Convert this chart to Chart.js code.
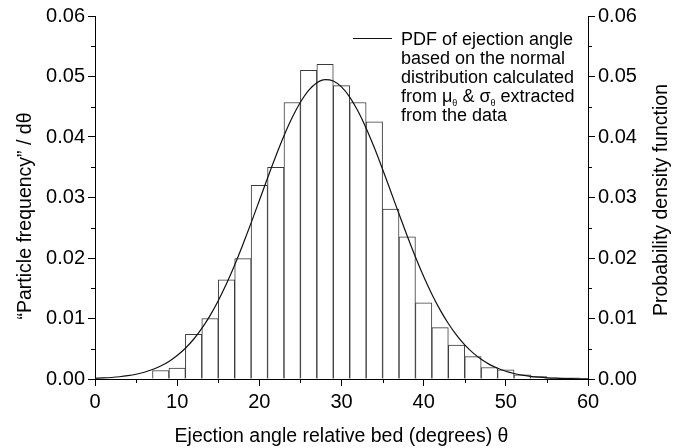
<!DOCTYPE html>
<html>
<head>
<meta charset="utf-8">
<script src="https://cdn.jsdelivr.net/npm/chart.js@4.4.1/dist/chart.umd.min.js"></script>
<style>
  html, body { margin: 0; padding: 0; background: #fff; }
  #wrap { width: 682px; height: 448px; }
</style>
</head>
<body>
<div id="wrap"><canvas id="chart" width="682" height="448"></canvas></div>
<script>
// histogram bins (centre of each 2 degree bin) and bar heights
const binCenters = [8, 10, 12, 14, 16, 18, 20, 22, 24, 26, 28, 30, 32, 34, 36, 38, 40, 42, 44, 46, 48, 50, 52, 54, 56, 58]
const particleFreq = [0.0014, 0.0018, 0.0074, 0.0100, 0.0164, 0.0199, 0.0320, 0.0350, 0.0457, 0.0510, 0.0520, 0.0485, 0.0457,
    0.0425, 0.0281, 0.0235, 0.0126, 0.0085, 0.0056, 0.0037, 0.0019, 0.0015, 0.0007, 0.0004, 0.0002, 0.0002]

// PDF curve, one point per degree
const pdfAngles = [0, 1, 2, 3, 4, 5, 6, 7, 8, 9, 10, 11, 12, 13, 14, 15, 16, 17, 18, 19, 20, 21, 22, 23, 24, 25, 26, 27, 28, 29,
    30, 31, 32, 33, 34, 35, 36, 37, 38, 39, 40, 41, 42, 43, 44, 45, 46, 47, 48, 49, 50, 51, 52, 53, 54, 55, 56, 57, 58, 59, 60]
const pdfValues = [0.00011, 0.00017, 0.00025, 0.00037, 0.00055, 0.00079, 0.00112, 0.00156, 0.00214, 0.00290,
    0.00387, 0.00508, 0.00657, 0.00837, 0.01048, 0.01295, 0.01574, 0.01885, 0.02223, 0.02580,
    0.02950, 0.03322, 0.03682, 0.04020, 0.04321, 0.04575, 0.04769, 0.04896, 0.04949, 0.04926,
    0.04828, 0.04660, 0.04429, 0.04146, 0.03821, 0.03467, 0.03099, 0.02727, 0.02364, 0.02017,
    0.01695, 0.01402, 0.01143, 0.00917, 0.00725, 0.00564, 0.00432, 0.00326, 0.00242, 0.00177,
    0.00128, 0.00091, 0.00063, 0.00044, 0.00030, 0.00020, 0.00013, 0.00008, 0.00005, 0.00003, 0.00002]

const xTicks = [0, 10, 20, 30, 40, 50, 60]
const xMinorTicks = [5, 15, 25, 35, 45, 55]
const yTicks = [0, 0.01, 0.02, 0.03, 0.04, 0.05, 0.06]
const yMinorTicks = [0.005, 0.015, 0.025, 0.035, 0.045, 0.055]

const xTitle = "Ejection angle relative bed (degrees) θ"
const yLeftTitle = "“Particle frequency” / dθ"
const yRightTitle = "Probability density function"
const legendText = [
    [["PDF of ejection angle"]],
    [["based on the normal"]],
    [["distribution calculated"]],
    [["from "], ["μ", "θ"], [" & "], ["σ", "θ"], [" extracted"]],
    [["from the data"]]
]

const fontFamily = '"Liberation Sans", Arial, Helvetica, sans-serif'
Chart.defaults.font.family = fontFamily
Chart.defaults.color = '#000'

const minorTicks = {
    id: 'minorTicks',
    afterDraw: (chart) => {
        const {ctx, chartArea, scales} = chart
        ctx.save()
        ctx.strokeStyle = '#000'
        ctx.lineWidth = 1
        ctx.beginPath()
        xMinorTicks.forEach(v => {
            const px = Math.round(scales.x.getPixelForValue(v)) + 0.5
            ctx.moveTo(px, chartArea.bottom)
            ctx.lineTo(px, chartArea.bottom + 4)
        })
        yMinorTicks.forEach(v => {
            const py = Math.round(scales.y.getPixelForValue(v)) + 0.5
            ctx.moveTo(chartArea.left - 4, py)
            ctx.lineTo(chartArea.left, py)
            ctx.moveTo(chartArea.right, py)
            ctx.lineTo(chartArea.right + 4, py)
        })
        ctx.stroke()
        ctx.restore()
    }
}

const drawVertical = (ctx, text, x, y) => {
    ctx.save()
    ctx.font = `19.5px ${fontFamily}`
    ctx.fillStyle = '#000'
    ctx.textAlign = 'center'
    ctx.textBaseline = 'middle'
    ctx.translate(x, y)
    ctx.rotate(-Math.PI / 2)
    ctx.fillText(text, 0, 0)
    ctx.restore()
}

const sideTitles = {
    id: 'sideTitles',
    afterDraw: (chart) => {
        drawVertical(chart.ctx, yLeftTitle, 26, 216)
        drawVertical(chart.ctx, yRightTitle, 662, 200)
    }
}

const legendBox = {
    id: 'legendBox',
    afterDraw: (chart) => {
        const ctx = chart.ctx
        ctx.save()
        ctx.strokeStyle = '#111'
        ctx.lineWidth = 1
        ctx.beginPath()
        ctx.moveTo(353, 38.5)
        ctx.lineTo(392, 38.5)
        ctx.stroke()
        ctx.fillStyle = '#000'
        ctx.textBaseline = 'alphabetic'
        legendText.forEach((parts, i) => {
            let x = 401
            const y = 45 + i * 19
            parts.forEach(([main, sub]) => {
                ctx.font = `18px ${fontFamily}`
                ctx.fillText(main, x, y)
                x += ctx.measureText(main).width
                if (sub) {
                    ctx.font = `9px ${fontFamily}`
                    ctx.fillText(sub, x, y + 4)
                    x += ctx.measureText(sub).width
                }
            })
        })
        ctx.restore()
    }
}

const frame = {display: true, color: '#000', width: 1}
const axisGrid = {drawOnChartArea: false, drawTicks: true, tickLength: 7, color: '#000', offset: false}
const tickFont = {size: 20}

new Chart(document.getElementById('chart'), {
    type: 'bar',
    data: {
        datasets: [
            {
                type: 'line',
                data: pdfAngles.map((a, i) => ({x: a, y: pdfValues[i]})),
                borderColor: '#111',
                borderWidth: 1.2,
                pointRadius: 0,
                cubicInterpolationMode: 'monotone',
                yAxisID: 'y2',
                order: 0
            },
            {
                type: 'bar',
                data: binCenters.map((c, i) => ({x: c, y: particleFreq[i]})),
                backgroundColor: '#fff',
                borderColor: '#3a3a3a',
                borderWidth: {top: 1, left: 1, right: 1, bottom: 0},
                barPercentage: 1,
                categoryPercentage: 1,
                yAxisID: 'y',
                order: 1
            }
        ]
    },
    options: {
        responsive: false,
        animation: false,
        devicePixelRatio: 1,
        layout: {padding: {top: 16, left: 0, right: 0, bottom: 0}},
        plugins: {legend: {display: false}, tooltip: {enabled: false}},
        scales: {
            x: {
                type: 'linear',
                min: 0,
                max: 60,
                offset: false,
                afterBuildTicks: (s) => { s.ticks = xTicks.map(v => ({value: v})) },
                ticks: {font: tickFont, padding: 4, maxRotation: 0},
                grid: axisGrid,
                border: frame,
                title: {display: true, text: xTitle, font: {size: 19.5}, padding: {top: 0, bottom: 0}},
                afterFit: (s) => { s.height = 69 }
            },
            y: {
                type: 'linear',
                position: 'left',
                min: 0,
                max: 0.06,
                afterBuildTicks: (s) => { s.ticks = yTicks.map(v => ({value: v})) },
                ticks: {font: tickFont, padding: 3, callback: (v) => v.toFixed(2)},
                grid: axisGrid,
                border: frame,
                afterFit: (s) => { s.width = 95 }
            },
            y2: {
                type: 'linear',
                position: 'right',
                min: 0,
                max: 0.06,
                afterBuildTicks: (s) => { s.ticks = yTicks.map(v => ({value: v})) },
                ticks: {font: tickFont, padding: 3, callback: (v) => v.toFixed(2)},
                grid: axisGrid,
                border: frame,
                afterFit: (s) => { s.width = 94 }
            }
        }
    },
    plugins: [minorTicks, sideTitles, legendBox]
})
</script>
</body>
</html>
